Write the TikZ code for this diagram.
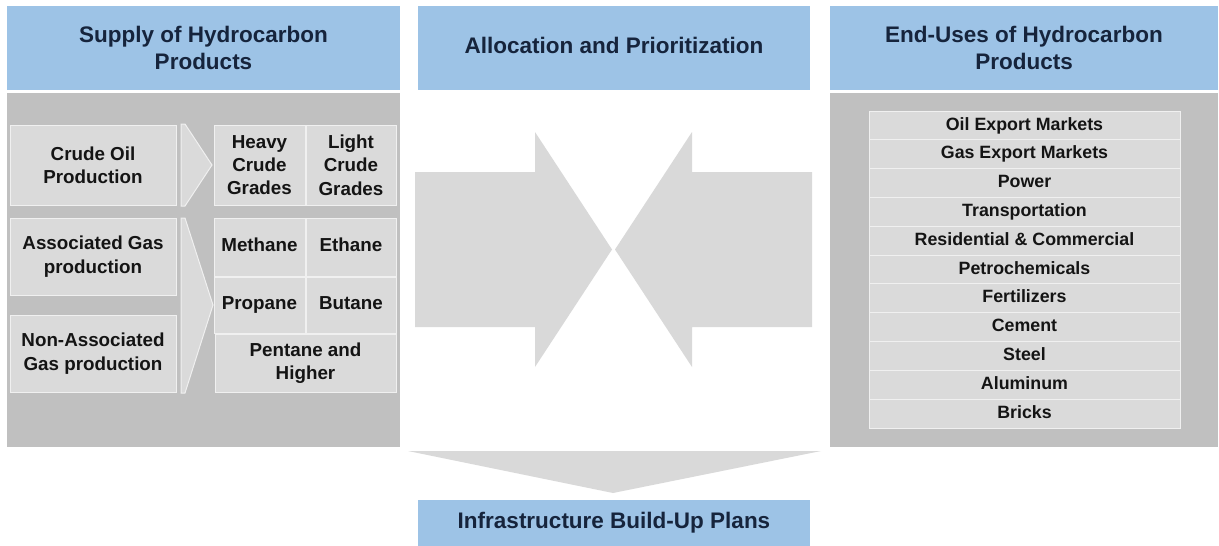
\documentclass[tikz,border=0pt]{standalone}
\usepackage{fontspec}
\setmainfont{Liberation Sans}
\definecolor{hblue}{RGB}{157,195,230}
\definecolor{panelgray}{RGB}{192,192,192}
\definecolor{boxgray}{RGB}{218,218,218}
\definecolor{boxline}{RGB}{240,240,240}
\definecolor{arrowgray}{RGB}{217,217,217}
\definecolor{navy}{RGB}{22,36,60}
\definecolor{boxtext}{RGB}{20,20,20}
\begin{document}
\begin{tikzpicture}[x=1pt,y=-1pt,
  header/.style={fill=hblue, draw=none, inner sep=0pt, align=center,
    text=navy, font=\fontsize{22.5}{27}\selectfont\bfseries},
  hline/.style={text height=16.4pt, text depth=4.6pt},
  panel/.style={fill=panelgray, draw=none, inner sep=0pt},
  srcbox/.style={fill=boxgray, draw=boxline, line width=1pt, inner sep=0pt, align=center,
    text=boxtext, font=\fontsize{18.8}{23.3}\selectfont\bfseries},
  sline/.style={text height=13.7pt, text depth=3.9pt},
  item/.style={fill=boxgray, draw=boxline, line width=1pt, inner sep=0pt, align=center,
    text=boxtext, font=\fontsize{17.8}{19}\selectfont\bfseries,
    minimum width=311pt, minimum height=28.8pt, text height=13pt, text depth=3.7pt},
  chev/.style={fill=boxgray, draw=boxline, line width=1pt},
  bigarrow/.style={fill=arrowgray, draw=none}
]
\useasboundingbox (0,0) rectangle (1219,546);
\fill[white] (0,0) rectangle (1219,546);

% headers
\node[header, minimum width=393pt, minimum height=84pt] (hSupply) at (203.5,48) {Supply of Hydrocarbon\\Products};
\node[header, hline, minimum width=392pt, minimum height=84pt] (hAlloc) at (614,48) {Allocation and Prioritization};
\node[header, minimum width=388pt, minimum height=84pt] (hEnd) at (1024,48) {End-Uses of Hydrocarbon\\Products};

% panels
\node[panel, minimum width=393pt, minimum height=354pt] (pLeft) at (203.5,270) {};
\node[panel, minimum width=388pt, minimum height=354pt] (pRight) at (1024,270) {};

% supply boxes
\node[srcbox, minimum width=166pt, minimum height=80pt] (crude) at (93,165) {Crude Oil\\Production};
\node[srcbox, minimum width=166pt, minimum height=77pt] (assoc) at (93,256.5) {Associated Gas\\production};
\node[srcbox, minimum width=166pt, minimum height=77pt] (nonassoc) at (93,353.5) {Non-Associated\\Gas production};

% chevrons
\draw[chev] (181,124) -- (185,124) -- (212,165) -- (185,206) -- (181,206) -- cycle;
\draw[chev] (181,218) -- (185,218) -- (213,305) -- (185,393) -- (181,393) -- cycle;

% products
\node[srcbox, minimum width=91pt, minimum height=80pt] (heavy) at (259.5,165) {Heavy\\Crude\\Grades};
\node[srcbox, minimum width=90pt, minimum height=80pt] (light) at (351,165) {Light\\Crude\\Grades};
\node[srcbox, sline, minimum width=91pt, minimum height=58pt] (methane) at (259.5,247) {Methane};
\node[srcbox, sline, minimum width=90pt, minimum height=58pt] (ethane) at (351,247) {Ethane};
\node[srcbox, sline, minimum width=91pt, minimum height=56pt] (propane) at (259.5,305) {Propane};
\node[srcbox, sline, minimum width=90pt, minimum height=56pt] (butane) at (351,305) {Butane};
\node[srcbox, minimum width=181pt, minimum height=58pt] (pentane) at (305.5,363) {Pentane and\\Higher};

% big arrows
\fill[bigarrow] (415,172) -- (535,172) -- (535,132) -- (612,249.5) -- (535,367) -- (535,327) -- (415,327) -- cycle;
\fill[bigarrow] (812,172) -- (692,172) -- (692,132) -- (615,249.5) -- (692,367) -- (692,327) -- (812,327) -- cycle;
\fill[bigarrow] (408,451) -- (821,451) -- (613,493) -- cycle;

% infrastructure
\node[header, hline, minimum width=392pt, minimum height=46pt] (hInfra) at (614,523) {Infrastructure Build-Up Plans};

% end uses list
\foreach \t [count=\i] in {Oil Export Markets, Gas Export Markets, Power, Transportation,
  Residential \& Commercial, Petrochemicals, Fertilizers, Cement, Steel, Aluminum, Bricks}
  \node[item] (end\i) at (1024.5,{111+28.82*(\i-0.5)}) {\t};
\end{tikzpicture}
\end{document}
